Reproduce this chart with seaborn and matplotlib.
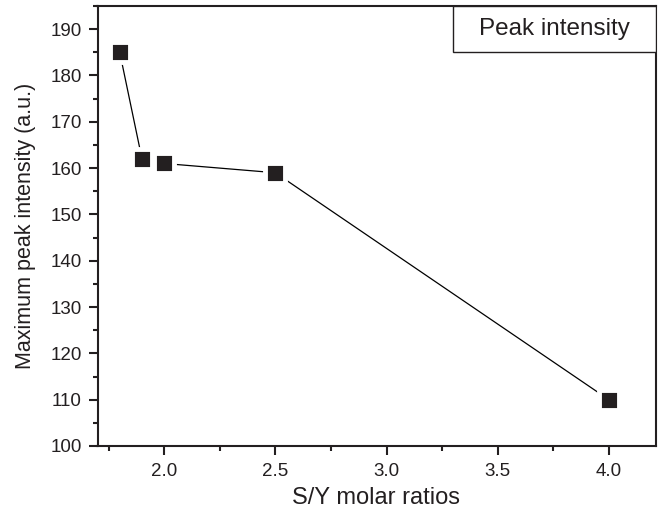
import matplotlib
matplotlib.use("Agg")
import matplotlib.pyplot as plt
import seaborn as sns
import pandas as pd
from matplotlib.ticker import MultipleLocator
from matplotlib.patches import Rectangle

ratios = [1.8, 1.9, 2.0, 2.5, 4.0]
intensity = [185, 162, 161, 159, 110]
series_label = "Peak intensity"

df = pd.DataFrame({"ratio": ratios, "intensity": intensity})

sns.set_theme(style="ticks")
plt.rcParams["font.family"] = ["Liberation Sans", "DejaVu Sans"]
ink = "#231f20"

fig = plt.figure(figsize=(6.62, 5.18), dpi=100)
ax = fig.add_axes([97.5 / 662, 1 - 446 / 518, (655.5 - 97.5) / 662, (446 - 6) / 518])

sns.lineplot(
    data=df, x="ratio", y="intensity", ax=ax,
    color="black", linewidth=0.9, marker="s", markersize=15,
    markerfacecolor=ink, markeredgecolor="white", markeredgewidth=3.5,
    label=series_label,
)

ax.set_xlim(1.7, 4.21)
ax.set_ylim(100, 195)
ax.set_xticks([2.0, 2.5, 3.0, 3.5, 4.0])
ax.xaxis.set_minor_locator(MultipleLocator(0.25))
ax.yaxis.set_major_locator(MultipleLocator(10))
ax.yaxis.set_minor_locator(MultipleLocator(5))

ax.tick_params(which="major", direction="out", length=6.5, width=1.5, labelsize=13.5, colors=ink)
ax.tick_params(which="minor", direction="out", length=3.5, width=1.5, colors=ink)
ax.tick_params(axis="x", pad=6)
ax.tick_params(axis="y", pad=5)
for side in ax.spines.values():
    side.set_linewidth(1.5)
    side.set_color(ink)

ax.set_xlabel("S/Y molar ratios", fontsize=17, color=ink, labelpad=5)
ax.set_ylabel("Maximum peak intensity (a.u.)", fontsize=15.5, color=ink, labelpad=10)

# legend box spanning the top-right corner, text only
box = (0.637, 0.895, 0.363, 0.105)
ax.add_patch(Rectangle(box[:2], box[2], box[3], transform=ax.transAxes,
                       facecolor="white", edgecolor=ink, linewidth=1.0, zorder=5))
leg = ax.legend(loc="center", bbox_to_anchor=box, frameon=False, fontsize=17.5,
                handlelength=0, handletextpad=0, borderpad=0, borderaxespad=0)
for h in leg.legend_handles:
    h.set_visible(False)
for t in leg.get_texts():
    t.set_color(ink)
leg.set_zorder(6)

fig.savefig("out.png", dpi=100)
